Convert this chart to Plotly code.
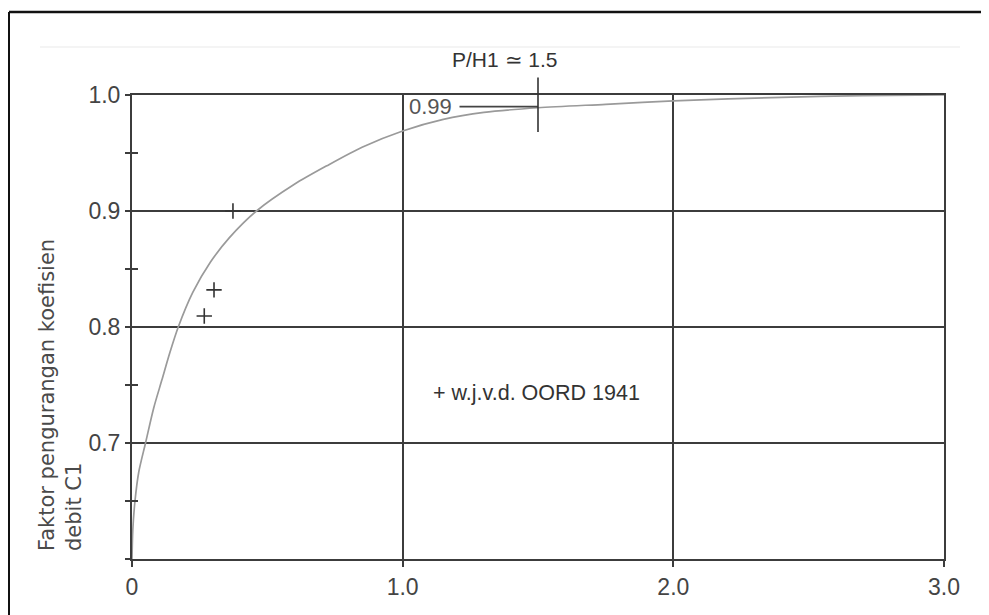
import plotly.graph_objects as go

# ---- data ----
curve_x = [0.0, 0.003, 0.011, 0.025, 0.05, 0.08, 0.11, 0.14, 0.171, 0.225, 0.29, 0.36,
           0.46, 0.60, 0.72, 0.85, 1.0, 1.15, 1.3, 1.5, 1.75, 2.0, 2.4, 2.7, 3.0]
curve_y = [0.6, 0.625, 0.65, 0.675, 0.70, 0.73, 0.754, 0.778, 0.80, 0.830, 0.856, 0.877,
           0.900, 0.923, 0.939, 0.955, 0.969, 0.979, 0.985, 0.989, 0.992, 0.995, 0.998, 0.9995, 1.0]

oord_x = [0.373, 0.303, 0.267]
oord_y = [0.900, 0.832, 0.8095]

x_tickvals = [0, 1, 2, 3]
x_ticktext = ["0", "1.0", "2.0", "3.0"]
y_tickvals = [0.6, 0.7, 0.8, 0.9, 1.0]
y_ticktext = ["", "0.7", "0.8", "0.9", "1.0"]
y_minorvals = [0.65, 0.75, 0.85, 0.95]

ref_level = 0.99          # 0.99 marker line
ref_level_x = [1.21, 1.5]
ph_ratio = 1.5            # P/H1 ~ 1.5
ph_tick_y = [0.968, 1.015]

x_range = [0, 3]
y_range = [0.6, 1.0]

GRID = "#3c3c3c"
TXT = "#444444"
FAM = "Liberation Sans, Arial, sans-serif"
TICKFONT = dict(family=FAM, size=23, color=TXT)

# page has an 8px body margin; positions below are given in screenshot pixels
OFF = 8
W, H = 989 - OFF, 615 - OFF
L, R, T, B = 132 - OFF, 944 - OFF, 95 - OFF, 559 - OFF

def px(p):
    return (p - OFF - L) / (R - L)

def pyp(p):
    return (B - (p - OFF)) / (B - T)

def py(v):
    return (v - y_range[0]) / (y_range[1] - y_range[0])

fig = go.Figure()

fig.add_trace(go.Scatter(x=curve_x, y=curve_y, mode="lines",
                         line=dict(color="#9a9a9a", width=1.7, shape="spline", smoothing=0.8),
                         hoverinfo="skip", showlegend=False))

fig.add_trace(go.Scatter(x=oord_x, y=oord_y, mode="markers",
                         marker=dict(symbol="cross-thin", size=11, line=dict(color="#333333", width=1.6)),
                         showlegend=False, cliponaxis=False, hoverinfo="skip"))

fig.add_trace(go.Scatter(x=ref_level_x, y=[ref_level, ref_level], mode="lines",
                         line=dict(color="#444444", width=1.6), showlegend=False, hoverinfo="skip"))

fig.add_shape(type="line", xref="x", yref="paper", x0=ph_ratio, x1=ph_ratio,
              y0=py(ph_tick_y[0]), y1=py(ph_tick_y[1]), line=dict(color="#333333", width=1.6))

# outer frame of the scanned figure
fig.add_shape(type="line", xref="paper", yref="paper", x0=px(9), x1=px(9), y0=pyp(12), y1=pyp(625),
              line=dict(color="#111111", width=2))
fig.add_shape(type="line", xref="paper", yref="paper", x0=px(9), x1=px(988), y0=pyp(12), y1=pyp(12),
              line=dict(color="#111111", width=2.5))
fig.add_shape(type="line", xref="paper", yref="paper", x0=px(986), x1=px(986), y0=pyp(12), y1=pyp(625),
              line=dict(color="#111111", width=2))
fig.add_shape(type="line", xref="paper", yref="paper", x0=px(40), x1=px(960), y0=pyp(47), y1=pyp(47),
              line=dict(color="#f0f0f0", width=1.5))

fig.add_annotation(x=px(505), y=pyp(60), xref="paper", yref="paper", text="P/H1 \u2243 1.5",
                   showarrow=False, font=dict(family=FAM, size=21, color="#333333"),
                   xanchor="center", yanchor="middle")
fig.add_annotation(x=px(430), y=ref_level, xref="paper", yref="y", text="0.99",
                   showarrow=False, font=dict(family=FAM, size=22, color="#555555"),
                   xanchor="center", yanchor="middle")
fig.add_annotation(x=px(536), y=pyp(393), xref="paper", yref="paper", text="+ w.j.v.d. OORD 1941",
                   showarrow=False, font=dict(family=FAM, size=21.5, color="#333333"),
                   xanchor="center", yanchor="middle")
fig.add_annotation(x=px(60), y=pyp(395), xref="paper", yref="paper",
                   text="Faktor pengurangan koefisien<br>debit C1", textangle=-90, align="left",
                   showarrow=False, font=dict(family="DejaVu Sans", size=21, color="#4a4a4a"),
                   xanchor="center", yanchor="middle")

fig.update_layout(
    width=W, height=H,
    margin=dict(l=L, r=W - R, t=T, b=H - B),
    paper_bgcolor="white", plot_bgcolor="white",
    font=TICKFONT,
    xaxis=dict(range=x_range, tickvals=x_tickvals, ticktext=x_ticktext,
               showgrid=True, gridcolor=GRID, gridwidth=2,
               showline=True, linecolor=GRID, linewidth=2, mirror=True,
               ticks="outside", ticklen=6, tickwidth=2, tickcolor=GRID,
               tickfont=TICKFONT, zeroline=False, fixedrange=True),
    yaxis=dict(range=y_range, tickvals=y_tickvals, ticktext=y_ticktext,
               showgrid=True, gridcolor=GRID, gridwidth=2,
               showline=True, linecolor=GRID, linewidth=2, mirror=True,
               ticks="outside", ticklen=5, tickwidth=2, tickcolor=GRID,
               tickfont=TICKFONT, zeroline=False, fixedrange=True,
               minor=dict(tickvals=y_minorvals, ticks="outside", ticklen=5, tickwidth=2, tickcolor=GRID,
                          showgrid=False)),
    yaxis2=dict(range=y_range, overlaying="y", side="left", anchor="x",
                tickvals=y_minorvals, ticks="inside", ticklen=6, tickwidth=2, tickcolor=GRID,
                showticklabels=False, showgrid=False, showline=False, zeroline=False, fixedrange=True),
)

# empty trace that activates the overlay axis carrying the inside minor ticks
fig.add_trace(go.Scatter(x=[None], y=[None], yaxis="y2", showlegend=False, hoverinfo="skip"))

fig.write_html("out.html")
